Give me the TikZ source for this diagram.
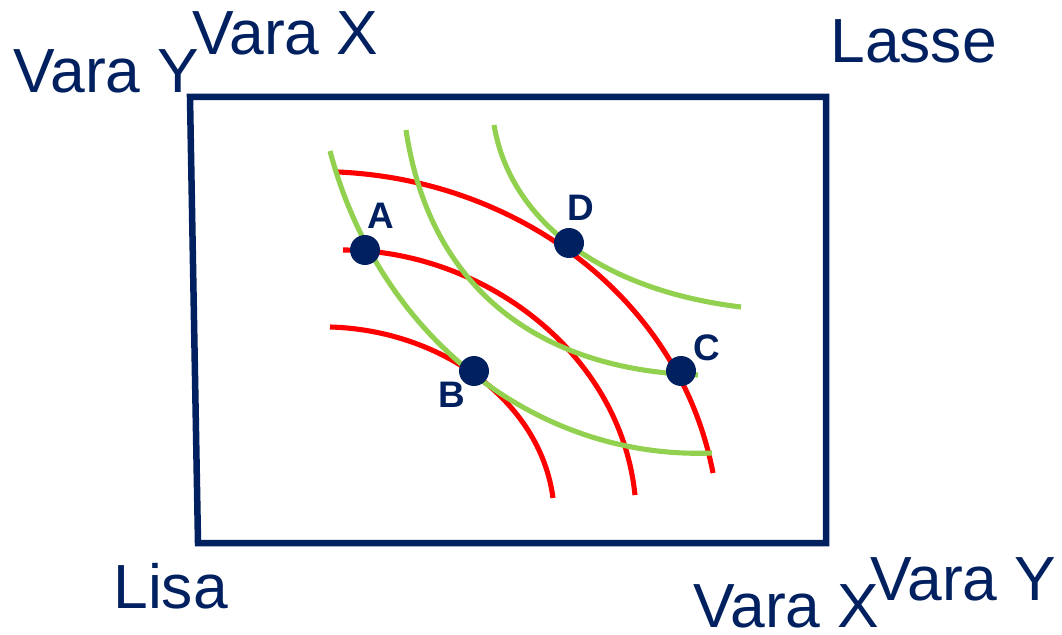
\documentclass[tikz,border=0pt]{standalone}
\usepackage{fontspec}
\setmainfont{Liberation Sans}
\definecolor{navy}{RGB}{0,32,96}
\definecolor{curvered}{RGB}{255,0,0}
\definecolor{curvegreen}{RGB}{146,208,80}
\begin{document}
\begin{tikzpicture}[x=0.02cm,y=-0.02cm,
  frame/.style={draw=navy,line width=3.7pt,line join=miter},
  redcurve/.style={draw=curvered,line width=2.9pt},
  greencurve/.style={draw=curvegreen,line width=2.9pt},
  dot/.style={circle,fill=navy,minimum size=0.6cm,inner sep=0pt},
  ptlabel/.style={anchor=base west,inner sep=0pt,text=navy,font=\fontsize{21}{25}\selectfont\bfseries},
  biglabel/.style={anchor=base west,inner sep=0pt,text=navy,font=\fontsize{35.5}{40}\selectfont}]
\useasboundingbox (0,0) rectangle (1062,635);
% frame
\draw[frame] (190,97) -- (826,97) -- (826,543) -- (198,543) -- cycle;
% red curves
\draw[redcurve] (338,172) .. controls (520,180) and (680,300) .. (713,473);
\draw[redcurve] (343,250) .. controls (480,250) and (620,350) .. (635,495);
\draw[redcurve] (330,327) .. controls (440,330) and (540,400) .. (553,498);
% green curves
\draw[greencurve] (330,151) .. controls (380,340) and (540,460) .. (712,453);
\draw[greencurve] (406,130) .. controls (430,290) and (540,370) .. (698,375);
\draw[greencurve] (494,125) .. controls (510,220) and (600,290) .. (741,307);
% points
\node[dot] (A) at (365,250) {};
\node[dot] (B) at (474,371) {};
\node[dot] (C) at (681,371) {};
\node[dot] (D) at (569,243) {};
\node[ptlabel] (lA) at (367,228) {A};
\node[ptlabel] (lB) at (438,407) {B};
\node[ptlabel] (lC) at (693,360) {C};
\node[ptlabel] (lD) at (567,220) {D};
% axis labels
\node[biglabel] (vy1) at (13,93) {Vara Y};
\node[biglabel] (vx1) at (192,55) {Vara X};
\node[biglabel] (lasse) at (830,63) {Lasse};
\node[biglabel] (lisa) at (113,608) {Lisa};
\node[biglabel] (vx2) at (693,627) {Vara X};
\node[biglabel] (vy2) at (870,600) {Vara Y};
\end{tikzpicture}
\end{document}
